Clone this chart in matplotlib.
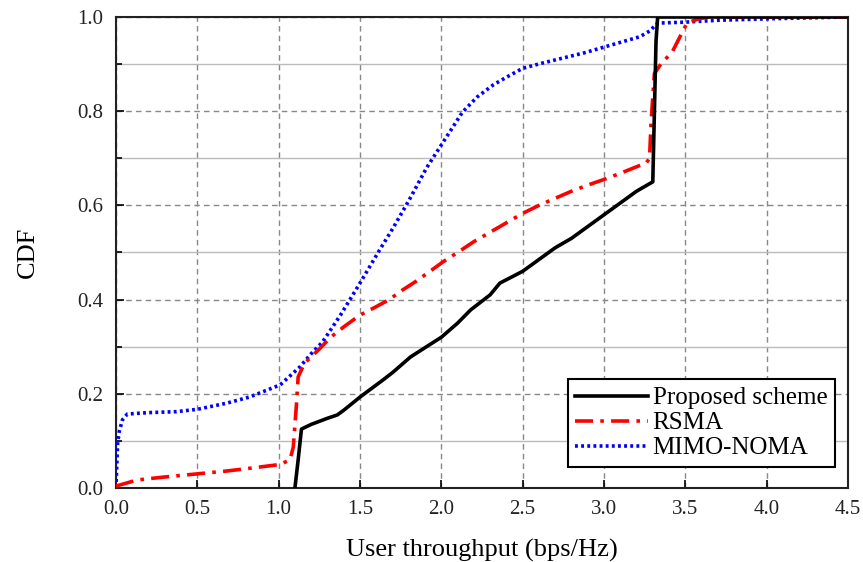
import numpy as np
import matplotlib
matplotlib.use("Agg")
import matplotlib.pyplot as plt
from matplotlib.ticker import MultipleLocator

plt.rcParams['font.family'] = ['Liberation Serif', 'DejaVu Serif']

# Proposed scheme
prop_x = [1.10, 1.12, 1.14, 1.20, 1.30, 1.36, 1.40, 1.50, 1.64, 1.70, 1.81, 1.90, 2.00, 2.10, 2.18,
          2.30, 2.36, 2.50, 2.60, 2.70, 2.80, 2.90, 3.00, 3.10, 3.20, 3.30, 3.31, 3.32, 3.33, 4.50]
prop_y = [0.00, 0.06, 0.125, 0.135, 0.148, 0.155, 0.165, 0.193, 0.229, 0.245, 0.278, 0.298, 0.320,
          0.350, 0.378, 0.410, 0.435, 0.460, 0.485, 0.510, 0.530, 0.555, 0.580, 0.605, 0.630, 0.650,
          0.800, 0.950, 1.000, 1.000]

# RSMA
rsma_x = [0.00, 0.13, 0.29, 0.50, 0.68, 0.85, 1.01, 1.07, 1.09, 1.11, 1.12, 1.16, 1.25, 1.32, 1.40,
          1.50, 1.60, 1.68, 1.76, 1.85, 1.93, 2.01, 2.10, 2.20, 2.30, 2.40, 2.50, 2.60, 2.70, 2.80,
          2.90, 3.00, 3.10, 3.20, 3.26, 3.28, 3.29, 3.31, 3.35, 3.42, 3.47, 3.51, 3.58, 3.65, 4.50]
rsma_y = [0.004, 0.017, 0.023, 0.030, 0.036, 0.043, 0.050, 0.060, 0.087, 0.180, 0.236, 0.265,
          0.295, 0.320, 0.342, 0.367, 0.385, 0.400, 0.420, 0.440, 0.460, 0.480, 0.500, 0.523,
          0.543, 0.563, 0.583, 0.600, 0.615, 0.630, 0.643, 0.655, 0.668, 0.682, 0.690, 0.700,
          0.780, 0.880, 0.900, 0.926, 0.960, 0.987, 0.996, 1.000, 1.000]

# MIMO-NOMA
noma_x = [0.00, 0.005, 0.01, 0.02, 0.04, 0.07, 0.20, 0.37, 0.50, 0.68, 0.82, 1.01, 1.13, 1.20, 1.27,
          1.38, 1.50, 1.62, 1.70, 1.80, 1.91, 2.02, 2.13, 2.22, 2.32, 2.40, 2.50, 2.62, 2.75, 2.88,
          3.00, 3.10, 3.22, 3.28, 3.33, 3.50, 3.70, 4.00, 4.50]
noma_y = [0.000, 0.050, 0.095, 0.120, 0.145, 0.157, 0.160, 0.162, 0.167, 0.180, 0.193, 0.219,
          0.257, 0.285, 0.310, 0.367, 0.435, 0.505, 0.550, 0.610, 0.680, 0.739, 0.798, 0.830,
          0.856, 0.872, 0.891, 0.902, 0.913, 0.924, 0.936, 0.946, 0.958, 0.970, 0.987, 0.989,
          0.993, 0.996, 1.000]

fig = plt.figure(figsize=(8.63, 5.62), dpi=100)
ax = fig.add_axes([0.1344, 0.1317, 0.8482, 0.8381])

ax.plot(prop_x, prop_y, color='black', lw=2.6, ls='-', label='Proposed scheme', zorder=5)
ax.plot(rsma_x, rsma_y, color='red', lw=2.6, ls=(0, (5, 2, 1, 2)), label='RSMA', zorder=4)
ax.plot(noma_x, noma_y, color='blue', lw=2.6, ls=(0, (0.8, 0.9)), label='MIMO-NOMA', zorder=3)

ax.set_xlim(0, 4.5)
ax.set_ylim(0, 1.0)
ax.xaxis.set_major_locator(MultipleLocator(0.5))
ax.yaxis.set_major_locator(MultipleLocator(0.2))
ax.yaxis.set_minor_locator(MultipleLocator(0.1))
ax.xaxis.set_major_formatter(plt.FormatStrFormatter('%.1f'))
ax.yaxis.set_major_formatter(plt.FormatStrFormatter('%.1f'))

ax.grid(which='major', axis='both', color='#888888', ls=(0, (4, 3)), lw=1.0)
ax.grid(which='minor', axis='y', color='#bbbbbb', ls='-', lw=1.0)
ax.set_axisbelow(True)

ax.tick_params(which='both', direction='in', labelsize=15, length=6, width=1.2,
               top=False, right=False, labelcolor='#222222')
ax.tick_params(which='minor', length=4)
ax.tick_params(axis='x', pad=9)
ax.tick_params(axis='y', pad=9)
for sp in ax.spines.values():
    sp.set_linewidth(1.5)
    sp.set_color('#222222')

ax.set_xlabel('User throughput (bps/Hz)', fontsize=19, labelpad=14)
ax.set_ylabel('CDF', fontsize=19, labelpad=28)

leg = ax.legend(loc='lower right', fontsize=18, frameon=True, fancybox=False,
                edgecolor='black', framealpha=1, handlelength=2.9, borderpad=0.3,
                labelspacing=0.1, handletextpad=0.2, borderaxespad=0,
                bbox_to_anchor=(0.982, 0.045))
leg.get_frame().set_linewidth(1.5)

fig.savefig('out.png', dpi=100)
